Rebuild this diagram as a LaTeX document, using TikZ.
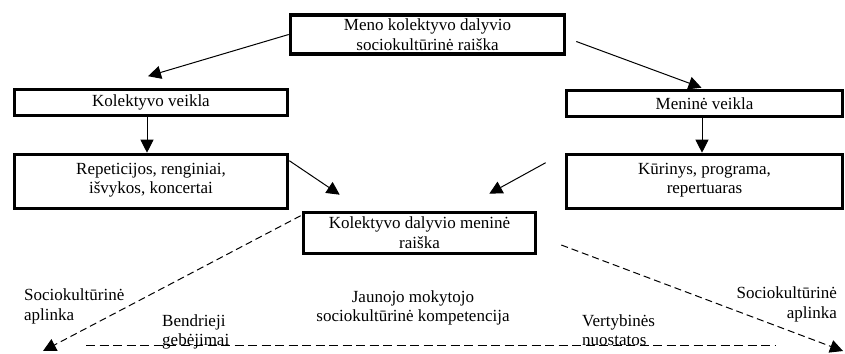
\documentclass[tikz,border=0pt]{standalone}
\usepackage{fontspec}
\setmainfont{Liberation Serif}
\usetikzlibrary{arrows.meta,calc}
\tikzset{
  box/.style={draw, line width=3.6pt, inner sep=0pt, align=center, font=\fontsize{17}{20}\selectfont},
  txt/.style={inner sep=0pt, font=\fontsize{17}{20}\selectfont},
  arr/.style={line width=1pt, -{Triangle[length=13pt,width=13pt]}},
  darr/.style={line width=1pt, dash pattern=on 7pt off 4pt, -{Triangle[length=13pt,width=13pt]}},
  dline/.style={line width=1pt, dash pattern=on 9pt off 4.5pt},
}
\begin{document}
\begin{tikzpicture}[x=1pt,y=-1pt]
\useasboundingbox (0,0) rectangle (845,353);
% boxes
\node[box, minimum width=274pt, minimum height=39pt] (top) at (427.5,34.5) {Meno kolektyvo dalyvio\\sociokultūrinė raiška};
\node[box, minimum width=273pt, minimum height=26pt] (kol) at (151,102.5) {Kolektyvo veikla};
\node[box, minimum width=276pt, minimum height=26pt] (men) at (704.5,103.5) {Meninė veikla};
\node[box, minimum width=273pt, minimum height=54pt] (rep) at (151,181.5) {};
\node[box, minimum width=276pt, minimum height=54pt] (kur) at (704.5,181.5) {};
\node[box, minimum width=232pt, minimum height=41pt] (cen) at (419.5,233) {Kolektyvo dalyvio meninė\\raiška};
% texts inside tall boxes
\node[txt, anchor=base] (rept1) at (151,174) {Repeticijos, renginiai,};
\node[txt, anchor=base] (rept2) at (151,193) {išvykos, koncertai};
\node[txt, anchor=base] (kurt1) at (704.5,174) {Kūrinys, programa,};
\node[txt, anchor=base] (kurt2) at (704.5,193) {repertuaras};
% solid arrows
\draw[arr] (top.west) -- ($(kol.north)+(-3,-11.5)$);
\draw[arr] ($(top.east)+(10,7)$) -- ($(men.north)+(-3,-1)$);
\draw[arr] ($(kol.south)+(-4,0)$) -- ($(rep.north)+(-4,0)$);
\draw[arr] ($(men.south)+(-2.5,0)$) -- ($(kur.north)+(-2.5,0)$);
\draw[arr] ($(rep.north east)+(0,8)$) -- ($(cen.north west)+(38,-16)$);
\draw[arr] ($(kur.north west)+(-19,10)$) -- ($(cen.north east)+(-48,-17)$);
% dashed
\coordinate (bl) at (43,351);
\coordinate (br) at (843,351);
\coordinate (hl) at (86,345);
\coordinate (hr) at (775,345);
\draw[darr] ($(cen.north west)+(-1,5)$) -- (bl);
\draw[darr] ($(cen.east)+(24,12)$) -- (br);
\draw[dline] (hl) -- (hr);
% bottom texts
\node[txt, anchor=base west] (sl1) at (24,300) {Sociokultūrinė};
\node[txt, anchor=base west] (sl2) at (24,320) {aplinka};
\node[txt, anchor=base east] (sr1) at (837,298) {Sociokultūrinė};
\node[txt, anchor=base east] (sr2) at (837,318) {aplinka};
\node[txt, anchor=base] (j1) at (413,302) {Jaunojo mokytojo};
\node[txt, anchor=base] (j2) at (413,321) {sociokultūrinė kompetencija};
\node[txt, anchor=base west] (b1) at (162,326) {Bendrieji};
\node[txt, anchor=base west] (b2) at (162,345) {gebėjimai};
\node[txt, anchor=base west] (v1) at (582,326) {Vertybinės};
\node[txt, anchor=base west] (v2) at (582,345) {nuostatos};
\end{tikzpicture}
\end{document}
